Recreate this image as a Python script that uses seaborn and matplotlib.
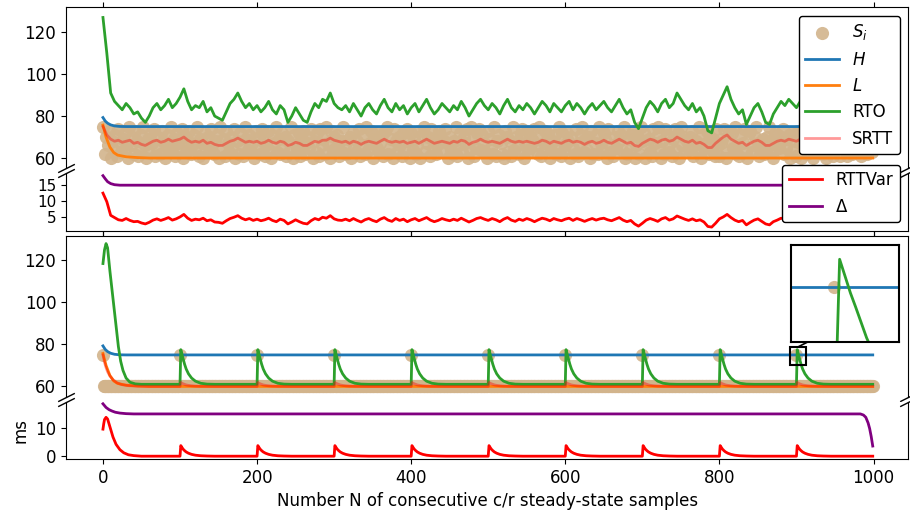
import matplotlib.pyplot as plt
import seaborn as sns
from matplotlib.patches import ConnectionPatch

plt.rcParams["font.size"] = 12

# ---------------- top pair: steady state with random samples ----------------
# S_i, every second sample (values between L and H)
si_top_n = list(range(0, 1000, 2))
si_top = [
    75, 62, 70, 66, 73, 60, 68, 64, 71, 61, 74, 67, 63, 69, 72, 65, 60, 75, 66, 70,
    62, 73, 68, 61, 64, 71, 75, 66, 60, 69, 63, 72, 67, 74, 61, 65, 70, 62, 73, 68,
    60, 66, 71, 64, 75, 63, 69, 61, 72, 67, 65, 74, 60, 70, 63, 68, 73, 62, 66, 71,
    64, 75, 61, 69, 67, 60, 72, 65, 70, 63, 74, 66, 62, 68, 71, 60, 75, 64, 69, 61,
    73, 67, 63, 70, 65, 74, 60, 68, 62, 72, 66, 61, 75, 69, 64, 71, 63, 67, 60, 73,
    65, 70, 62, 74, 68, 61, 66, 73, 64, 60, 71, 67, 75, 63, 69, 62, 72, 65, 70, 61,
    68, 63, 75, 60, 71, 66, 64, 72, 61, 69, 73, 62, 67, 70, 65, 74, 60, 68, 63, 72,
    61, 74, 66, 69, 62, 75, 67, 60, 73, 64, 70, 65, 71, 61, 68, 63, 75, 66, 62, 69,
    70, 60, 72, 65, 63, 68, 74, 61, 66, 71, 62, 75, 64, 67, 73, 60, 69, 72, 65, 63,
    67, 71, 61, 73, 75, 62, 65, 69, 60, 74, 68, 63, 70, 66, 61, 72, 64, 74, 68, 60,
    72, 64, 69, 62, 66, 73, 60, 71, 75, 63, 67, 70, 61, 74, 65, 69, 62, 66, 73, 71,
    63, 68, 74, 67, 60, 70, 64, 62, 68, 75, 61, 66, 72, 63, 70, 67, 74, 60, 64, 75,
    69, 61, 65, 72, 74, 64, 71, 67, 63, 60, 73, 69, 65, 62, 75, 61, 68, 71, 67, 62,
    60, 73, 70, 63, 68, 61, 75, 64, 70, 66, 62, 71, 74, 60, 67, 73, 63, 65, 70, 68,
    74, 66, 62, 75, 61, 69, 67, 73, 65, 72, 60, 64, 68, 71, 62, 66, 75, 61, 72, 64,
    66, 72, 68, 60, 70, 65, 62, 74, 61, 67, 71, 75, 63, 69, 64, 70, 60, 73, 62, 67,
    71, 62, 75, 67, 64, 72, 69, 60, 74, 63, 66, 61, 70, 65, 73, 68, 71, 64, 75, 60,
    62, 69, 64, 71, 73, 60, 66, 70, 62, 75, 68, 72, 60, 66, 69, 63, 61, 74, 67, 70,
    75, 65, 60, 68, 62, 74, 71, 63, 67, 61, 69, 74, 64, 72, 60, 75, 66, 70, 63, 68,
    64, 70, 73, 61, 66, 68, 63, 75, 60, 71, 65, 67, 73, 62, 70, 64, 69, 61, 74, 66,
    61, 67, 69, 74, 60, 63, 73, 68, 72, 65, 75, 62, 66, 61, 71, 67, 74, 63, 60, 72,
    73, 63, 66, 70, 75, 67, 61, 65, 69, 62, 64, 70, 75, 68, 63, 60, 72, 66, 71, 65,
    68, 74, 62, 65, 69, 71, 60, 72, 64, 68, 61, 73, 67, 60, 74, 70, 65, 62, 69, 73,
    65, 60, 71, 73, 63, 66, 74, 62, 70, 60, 72, 65, 69, 75, 61, 64, 67, 73, 61, 70,
    70, 72, 64, 61, 67, 75, 62, 69, 73, 66, 63, 68, 61, 71, 66, 74, 62, 70, 65, 63,
]

# estimators, every fifth sample
top_n = list(range(0, 1000, 5))
rto_top = [
    127, 110, 91, 87, 85, 83, 86, 84, 81, 82, 79, 77, 80, 84, 86, 83, 85, 88, 84, 86,
    89, 93, 87, 83, 85, 84, 87, 82, 84, 80, 79, 78, 82, 86, 88, 91, 87, 84, 86, 83,
    85, 82, 84, 87, 83, 81, 85, 83, 77, 80, 84, 81, 78, 77, 82, 86, 84, 88, 87, 91,
    86, 84, 83, 85, 82, 86, 83, 80, 84, 86, 83, 81, 85, 88, 84, 82, 86, 83, 85, 81,
    84, 86, 82, 85, 88, 84, 81, 83, 86, 84, 82, 85, 83, 87, 84, 80, 83, 86, 88, 85,
    83, 86, 84, 81, 85, 88, 84, 82, 85, 83, 86, 84, 81, 84, 87, 85, 82, 86, 84, 82,
    85, 87, 83, 86, 84, 81, 84, 86, 83, 85, 87, 84, 82, 85, 88, 84, 81, 83, 77, 74,
    79, 84, 87, 85, 82, 86, 88, 84, 86, 91, 88, 85, 83, 86, 82, 84, 80, 73, 72, 79,
    86, 90, 94, 88, 84, 81, 83, 76, 80, 84, 86, 82, 77, 76, 81, 84, 87, 85, 88, 86,
    84, 87, 85, 82, 86, 88, 84, 86, 89, 86, 88, 85, 90, 87, 84, 88, 86, 89, 85, 87,
]
srtt_top = [
    75, 71, 69, 68, 68.5, 67.5, 68, 68.5, 67, 67.5, 66.5, 66, 67, 68, 68.5, 67.5, 68, 69, 68, 68.5,
    69, 70, 68.5, 67.5, 68, 67.5, 68.5, 67, 67.5, 66.5, 66, 66, 67, 68, 68.5, 69.5, 68.5, 67.5, 68, 67.5,
    68, 67, 67.5, 68.5, 67.5, 67, 68, 67.5, 66, 66.5, 67.5, 67, 66, 66, 67, 68, 67.5, 68.5, 68.5, 69.5,
    68.5, 68, 67.5, 68, 67, 68, 67.5, 66.5, 67.5, 68, 67.5, 67, 68, 69, 68, 67.5, 68, 67.5, 68, 67,
    67.5, 68, 67, 68, 69, 68, 67, 67.5, 68, 67.5, 67, 68, 67.5, 68.5, 68, 66.5, 67.5, 68, 69, 68,
    67.5, 68, 67.5, 67, 68, 69, 68, 67.5, 68, 67.5, 68, 67.5, 67, 67.5, 68.5, 68, 67, 68, 67.5, 67,
    68, 68.5, 67.5, 68, 67.5, 66.5, 67.5, 68, 67, 67.5, 68.5, 67.5, 67, 68, 69, 68, 67, 67.5, 66, 65.5,
    67, 68, 69, 68.5, 67.5, 68.5, 69, 68, 68.5, 70, 69, 68, 67.5, 68.5, 67, 67.5, 66.5, 65, 65, 67,
    68.5, 70, 71, 69, 68, 67, 67.5, 66, 67, 68, 68.5, 67.5, 66, 66, 67, 68, 68.5, 68, 69, 68.5,
    68, 69, 68.5, 67.5, 68.5, 69, 68, 68.5, 69.5, 68.5, 69, 68.5, 69.5, 69, 68, 69, 68.5, 69.5, 68.5, 69,
]
rttvar_top = [
    12.5, 9.8, 5.5, 4.8, 4.1, 3.9, 4.5, 3.9, 3.5, 3.6, 3.1, 2.8, 3.3, 4.0, 4.4, 3.9, 4.3, 4.8, 4.0, 4.4,
    5.0, 5.8, 4.6, 3.9, 4.3, 4.1, 4.6, 3.8, 4.1, 3.4, 3.3, 3.0, 3.8, 4.5, 4.9, 5.4, 4.6, 4.1, 4.5, 3.9,
    4.3, 3.8, 4.1, 4.6, 3.9, 3.5, 4.3, 3.9, 2.8, 3.4, 4.1, 3.5, 3.0, 2.8, 3.8, 4.5, 4.1, 4.9, 4.6, 5.4,
    4.4, 4.0, 3.9, 4.3, 3.8, 4.5, 3.9, 3.4, 4.1, 4.5, 3.9, 3.5, 4.3, 4.8, 4.0, 3.6, 4.5, 3.9, 4.3, 3.5,
    4.1, 4.5, 3.8, 4.3, 4.8, 4.0, 3.5, 3.9, 4.5, 4.1, 3.8, 4.3, 3.9, 4.6, 4.0, 3.4, 3.9, 4.5, 4.8, 4.3,
    3.9, 4.5, 4.1, 3.5, 4.3, 4.8, 4.0, 3.6, 4.3, 3.9, 4.5, 4.1, 3.5, 4.1, 4.6, 4.3, 3.8, 4.5, 4.1, 3.8,
    4.3, 4.6, 3.9, 4.5, 4.1, 3.6, 4.1, 4.5, 4.0, 4.4, 4.6, 4.1, 3.8, 4.3, 4.8, 4.0, 3.5, 3.9, 2.8, 2.1,
    3.0, 4.0, 4.5, 4.1, 3.6, 4.4, 4.8, 4.0, 4.4, 5.3, 4.8, 4.3, 3.9, 4.4, 3.8, 4.1, 3.4, 2.0, 1.8, 3.0,
    4.4, 5.0, 5.8, 4.8, 4.0, 3.5, 3.9, 2.5, 3.3, 4.0, 4.4, 3.6, 2.8, 2.5, 3.5, 4.0, 4.6, 4.3, 4.8, 4.4,
    4.0, 4.5, 4.1, 3.6, 4.4, 4.8, 4.0, 4.4, 4.9, 4.4, 4.8, 4.1, 5.1, 4.5, 4.0, 4.8, 4.4, 4.9, 4.1, 4.5,
]

# high / low estimators (same start-up in both runs)
h_n = [0, 3, 6, 10, 15, 22, 30, 999]
h_vals = [79.3, 77.6, 76.6, 75.8, 75.3, 75.05, 75.0, 75.0]
l_n = [0, 4, 9, 14, 19, 30, 45, 60, 999]
l_vals = [75.7, 70.0, 65.2, 62.6, 61.4, 60.6, 60.2, 60.0, 60.0]
delta_top_n = [0, 3, 6, 10, 15, 22, 999]
delta_top = [18.0, 17.0, 16.1, 15.5, 15.15, 15.0, 15.0]

# ---------------- bottom pair: constant samples, one peak every 100 ----------------
si_base, si_peak = 60, 75
spike_n = [0, 100, 200, 300, 400, 500, 600, 700, 800, 900]

# start-up part (n, value)
rto_start_n = [0, 2, 4, 6, 9, 13, 17, 20, 23, 26, 30, 35, 42, 50]
rto_start = [118.5, 125, 128, 126, 115, 102, 89, 79, 72, 67.6, 64, 62, 61.2, 61]
srtt_start_n = [0, 2, 4, 6, 9, 13, 18, 24, 32, 45, 60]
srtt_start = [75, 71.5, 69, 67, 65, 63.2, 61.8, 60.9, 60.4, 60.1, 60]
rttvar_start_n = [0, 1, 2, 4, 6, 9, 13, 17, 22, 27, 33, 40, 50]
rttvar_start = [9.6, 11.5, 13.0, 13.8, 13.2, 10.5, 6.8, 4.2, 2.3, 1.2, 0.5, 0.2, 0.0]
delta_bot_n = [0, 4, 8, 12, 16, 22, 30, 40, 983, 987, 990, 993, 995, 997, 999]
delta_bot = [18.6, 17.3, 16.5, 16.0, 15.6, 15.3, 15.1, 15.0, 15.0, 14.6, 13.8, 11.8, 9.8, 7.0, 3.6]

# response to one peak, offsets from the peak sample
pulse_off = [0, 1, 2, 3, 4, 6, 8, 11, 15, 20, 27, 35, 45]
rto_pulse = [61, 77.5, 76, 74.5, 73.2, 70.5, 68.3, 66, 64, 62.5, 61.5, 61.1, 61]
srtt_pulse = [60, 61.9, 61.6, 61.4, 61.25, 60.95, 60.7, 60.5, 60.3, 60.15, 60.06, 60.02, 60]
rttvar_pulse = [0, 3.75, 3.3, 2.9, 2.5, 1.95, 1.5, 1.05, 0.65, 0.35, 0.15, 0.06, 0]

# zoom window around the last peak
zoom_x = (892, 912)
zoom_y = (70.1, 78.8)


def with_pulses(start_n, start_vals, pulse, last):
    xs, ys = list(start_n), list(start_vals)
    for p in spike_n[1:]:
        xs += [p + o for o in pulse_off]
        ys += list(pulse)
    xs.append(999)
    ys.append(last)
    return xs, ys


si_bot_n = list(range(1000))
si_bot = [si_peak if n in spike_n else si_base for n in si_bot_n]
rto_bot_n, rto_bot = with_pulses(rto_start_n, rto_start, rto_pulse, 61)
srtt_bot_n, srtt_bot = with_pulses(srtt_start_n, srtt_start, srtt_pulse, 60)
rttvar_bot_n, rttvar_bot = with_pulses(rttvar_start_n, rttvar_start, rttvar_pulse, 0)

LW = 2
SI_KW = dict(color="tan", s=90, alpha=0.9, linewidth=0)


def draw_main(ax, si_n, si, rto_n, rto, srtt_n, srtt, labels=True):
    lab = (lambda t: t) if labels else (lambda t: None)
    sns.scatterplot(x=si_n, y=si, ax=ax, label=lab("$S_i$"), **SI_KW)
    sns.lineplot(x=h_n, y=h_vals, ax=ax, color="C0", lw=LW, label=lab("$H$"))
    sns.lineplot(x=l_n, y=l_vals, ax=ax, color="C1", lw=LW, label=lab("$L$"))
    sns.lineplot(x=rto_n, y=rto, ax=ax, color="C2", lw=LW, label=lab("RTO"))
    sns.lineplot(x=srtt_n, y=srtt, ax=ax, color="red", alpha=0.4, lw=LW, label=lab("SRTT"))


fig = plt.figure(figsize=(9.1, 5.14), dpi=100)
gs = fig.add_gridspec(4, 1, height_ratios=[2.8, 1, 2.8, 1], hspace=0.046,
                      left=0.0725, right=0.998, top=0.986, bottom=0.107)
ax1 = fig.add_subplot(gs[0])
ax2 = fig.add_subplot(gs[1], sharex=ax1)
ax3 = fig.add_subplot(gs[2], sharex=ax1)
ax4 = fig.add_subplot(gs[3], sharex=ax1)

# top pair
draw_main(ax1, si_top_n, si_top, top_n, rto_top, top_n, srtt_top)
sns.lineplot(x=top_n, y=rttvar_top, ax=ax2, color="red", lw=LW, label="RTTVar")
sns.lineplot(x=delta_top_n, y=delta_top, ax=ax2, color="purple", lw=LW, label="Δ")

# bottom pair
draw_main(ax3, si_bot_n, si_bot, rto_bot_n, rto_bot, srtt_bot_n, srtt_bot, labels=False)
sns.lineplot(x=rttvar_bot_n, y=rttvar_bot, ax=ax4, color="red", lw=LW)
sns.lineplot(x=delta_bot_n, y=delta_bot, ax=ax4, color="purple", lw=LW)

ax1.set_ylim(55.2, 131.9)
ax3.set_ylim(55.2, 131.8)
ax2.set_ylim(0.7, 18.8)
ax4.set_ylim(-1.0, 19.4)
ax1.set_xlim(-48, 1045)
ax2.tick_params(axis="y", labelsize=11)

# broken axes
d = 0.5
brk = dict(marker=[(-1, -d), (1, d)], markersize=12, linestyle="none",
           color="k", mec="k", mew=1, clip_on=False)
for upper, lower in [(ax1, ax2), (ax3, ax4)]:
    upper.spines["bottom"].set_visible(False)
    lower.spines["top"].set_visible(False)
    upper.xaxis.tick_top()
    upper.tick_params(labeltop=False, labelbottom=False)
    lower.xaxis.tick_bottom()
    upper.plot([0, 1], [0, 0], transform=upper.transAxes, **brk)
    lower.plot([0, 1], [1, 1], transform=lower.transAxes, **brk)
ax2.tick_params(labelbottom=False)

for ax in (ax1, ax2, ax3, ax4):
    ax.set_xlabel("")
    ax.set_ylabel("")

leg1 = ax1.legend(loc="upper right", edgecolor="black", framealpha=1)
leg2 = ax2.legend(loc="lower right", edgecolor="black", framealpha=1)
leg2.set_zorder(10)

ax4.set_ylabel("ms")
ax4.set_xlabel("Number N of consecutive c/r steady-state samples")

# zoom on the last peak
axins = ax3.inset_axes([0.861, 0.3375, 0.128, 0.606])
draw_main(axins, si_bot_n, si_bot, rto_bot_n, rto_bot, srtt_bot_n, srtt_bot, labels=False)
axins.set_xlim(*zoom_x)
axins.set_ylim(*zoom_y)
axins.set_xticks([])
axins.set_yticks([])
axins.set_xlabel("")
axins.set_ylabel("")
for s in axins.spines.values():
    s.set_linewidth(1.5)
ax3.indicate_inset([zoom_x[0], zoom_y[0], zoom_x[1] - zoom_x[0], zoom_y[1] - zoom_y[0]],
                   edgecolor="black", alpha=1, linewidth=1.5)
con = ConnectionPatch(xyA=(sum(zoom_x) / 2, zoom_y[1]), coordsA=ax3.transData,
                      xyB=(0.15, 0), coordsB=axins.transAxes, color="black", lw=1.2)
ax3.add_artist(con)

fig.savefig("out.png", dpi=100)
